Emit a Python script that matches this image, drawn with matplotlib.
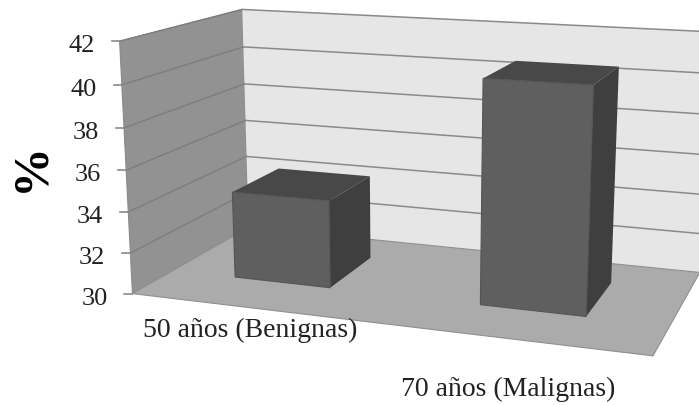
import numpy as np, matplotlib
matplotlib.use('Agg')
import matplotlib.pyplot as plt
from matplotlib.patches import Polygon

categories = ['50 años (Benignas)', '70 años (Malignas)']
values = [34.3, 40.6]
ticks = [30, 32, 34, 36, 38, 40, 42]
VMIN, VMAX = 30, 42
bar_u = [(0.137, 0.341), (0.645, 0.847)]
bar_w = (0.32, 0.745)

# camera calibration: (u, value-fraction, depth) -> image pixel
cal3 = np.array([[0,0,0],[0,1,0],[0,1,1],[0,0,1],[1,0,1],[1,0,0],[1,1,1]], float)
cal2 = np.array([[133,291],[119,43],[243,9],[248,232],[700,270],[653,360],[712,33.7]], float)
A = []
for (X,Y,Z),(x,y) in zip(cal3, cal2):
    A.append([X,Y,Z,1,0,0,0,0,-x*X,-x*Y,-x*Z,-x])
    A.append([0,0,0,0,X,Y,Z,1,-y*X,-y*Y,-y*Z,-y])
P = np.linalg.svd(np.array(A))[2][-1].reshape(3,4)
def proj(u, val, w):
    v = (val-VMIN)/(VMAX-VMIN)
    p = P @ np.array([u,v,w,1.0])
    return p[:2]/p[2]

plt.rcParams['font.family'] = ['Liberation Serif', 'DejaVu Serif']
fig = plt.figure(figsize=(6.99,4.06), dpi=100)
ax = fig.add_axes([0,0,1,1]); ax.set_xlim(0,699); ax.set_ylim(406,0); ax.axis('off')

def poly(pts, c, z=1, ec='none', lw=0.8):
    ax.add_patch(Polygon(pts, closed=True, fc=c, ec=ec, lw=lw, zorder=z))
poly([proj(0,30,0),proj(0,42,0),proj(0,42,1),proj(0,30,1)],'#929292',ec='#8a8a8a')
poly([proj(0,30,1),proj(0,42,1),proj(1,42,1),proj(1,30,1)],'#e6e6e6')
poly([proj(0,30,0),proj(0,30,1),proj(1,30,1),proj(1,30,0)],'#ababab',ec='#8f8f8f')
for t in ticks:
    a,b,c = proj(0,t,0),proj(0,t,1),proj(1,t,1)
    if t>30:
        ax.plot([a[0],b[0]],[a[1],b[1]],color='#7d7d7d',lw=1,zorder=2)
        ax.plot([b[0],c[0]],[b[1],c[1]],color='#8a8a8a',lw=1.1,zorder=2)
    ax.plot([a[0]-8,a[0]],[a[1],a[1]],color='#8a8a8a',lw=1.2,zorder=2)
    ax.text(a[0]-25,a[1]+4,str(t),ha='right',va='center',fontsize=19,color='#222222')
for (u0,u1),val in zip(bar_u,values):
    w0,w1 = bar_w
    poly([proj(u0,val,w0),proj(u1,val,w0),proj(u1,val,w1),proj(u0,val,w1)],'#484848',3)
    poly([proj(u1,30,w0),proj(u1,val,w0),proj(u1,val,w1),proj(u1,30,w1)],'#3f3f3f',3)
    poly([proj(u0,30,w0),proj(u1,30,w0),proj(u1,val,w0),proj(u0,val,w0)],'#5f5f5f',4,ec='#555555')
ax.text(31,167,'%',rotation=90,ha='center',va='center',fontsize=36,fontweight='bold',color='black')
ax.text(250,330,categories[0],ha='center',va='center',fontsize=20,color='#222222')
ax.text(508,389,categories[1],ha='center',va='center',fontsize=20,color='#222222')
fig.savefig('out.png',dpi=100)
